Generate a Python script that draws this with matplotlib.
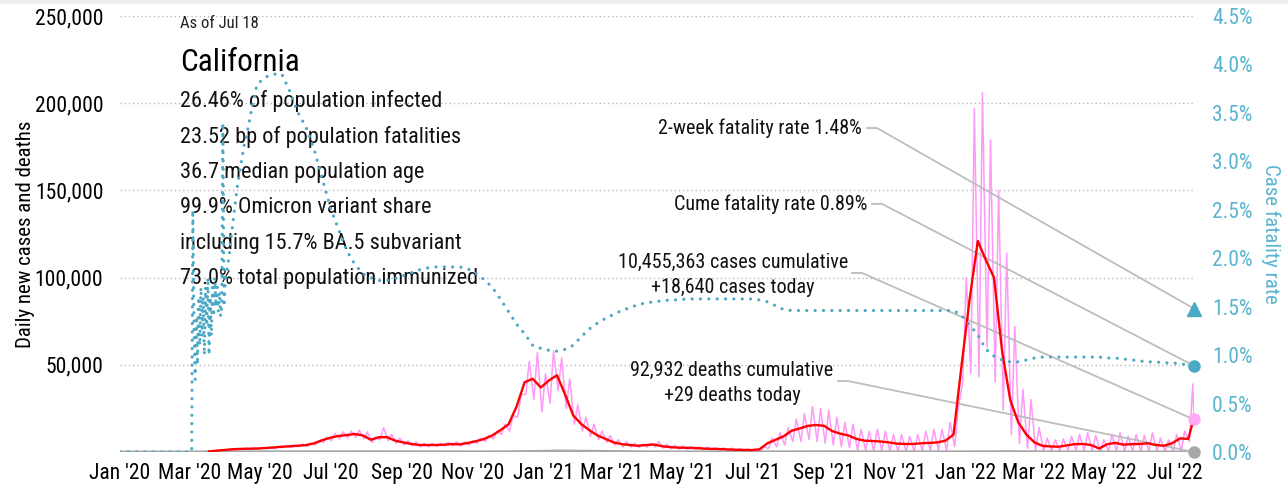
import numpy as np
import pandas as pd
import matplotlib
matplotlib.use('Agg')
import matplotlib.pyplot as plt
import matplotlib.dates as mdates
from matplotlib import font_manager
from matplotlib.patches import Rectangle
from matplotlib.ticker import FuncFormatter, MultipleLocator

# condensed font if we have one
installed = {f.name for f in font_manager.fontManager.ttflist}
fams = [n for n in ['Liberation Sans Narrow', 'Roboto Condensed'] if n in installed]
plt.rcParams['font.family'] = fams + ['DejaVu Sans']

# ── Data ──────────────────────────────────────────────────────
start = '2020-01-01'
as_of = '2022-07-18'
n_weeks = 133

# 7-day average of new cases (thousands), one value per week from Jan 1 2020
cases_avg_k = [np.nan] * 11 + [
    0.3, 0.8, 1.2, 1.6, 1.8, 1.9, 2.0, 2.3, 2.6, 3.0,
    3.3, 3.6, 4.0, 5.0, 6.8, 8.2, 9.2, 9.7, 10.3, 9.5,
    7.0, 8.5, 8.5, 6.5, 5.5, 4.6, 4.0, 4.0, 4.0, 4.2,
    4.5, 4.4, 5.2, 6.2, 7.5, 9.5, 12.5, 15.8, 26, 40,
    42, 37, 41, 44, 33, 21, 16, 12.5, 9.5, 7.5,
    5.5, 4.5, 4.0, 3.6, 4.0, 4.3, 3.3, 2.8, 2.5, 2.4,
    2.3, 2.0, 1.8, 1.7, 1.5, 1.3, 1.2, 1.1, 1.5, 5.0,
    7.0, 9.0, 12.2, 13.5, 15.0, 15.5, 15.0, 12.0, 10.5, 9.5,
    7.5, 6.5, 6.3, 6.0, 5.5, 4.8, 4.6, 4.6, 5.0, 5.2,
    5.5, 6.5, 10, 50, 88, 121, 110, 100, 58, 30,
    17, 10, 5.5, 3.5, 3.2, 3.0, 3.8, 4.5, 4.6, 4.0,
    2.0, 4.5, 5.2, 4.2, 4.5, 4.6, 5.0, 4.0, 3.6, 5.0,
    7.8, 7.5]
cases_avg_last_k = 19.5

# daily new cases (thousands): weekly high (reporting day) and low (weekend)
cases_hi_k = [0] * 9 + [0.05, 0.3,
    0.6, 1.1, 1.5, 1.9, 2.2, 2.4, 2.5, 2.8, 3.2, 3.6,
    4.0, 4.5, 5.0, 6.5, 8.5, 10.5, 11.5, 12.0, 12.5, 11.5,
    8.5, 14.0, 10.0, 8.0, 6.5, 5.8, 5.0, 5.0, 5.0, 5.5,
    5.8, 5.6, 6.5, 7.8, 9.5, 12.0, 16.0, 21.0, 33.0, 52.0,
    57.0, 45.0, 58.0, 54.0, 42.0, 27.0, 20.0, 16.0, 12.0, 9.5,
    7.0, 6.0, 5.0, 4.5, 5.0, 6.0, 4.5, 3.8, 3.4, 3.2,
    3.0, 2.8, 2.5, 2.4, 2.2, 2.0, 1.8, 1.8, 3.0, 8.0,
    11.0, 14.0, 19.0, 22.0, 26.0, 25.0, 24.0, 20.0, 17.0, 16.0,
    13.0, 12.0, 13.0, 12.0, 10.0, 10.0, 9.0, 10.0, 12.0, 13.0,
    13.0, 17.0, 25.0, 100.0, 197.0, 206.0, 179.0, 150.0, 114.0, 72.0,
    36.0, 30.0, 14.0, 8.0, 7.0, 7.5, 9.0, 10.0, 11.0, 9.5,
    7.0, 10.0, 11.0, 9.0, 10.0, 9.5, 11.0, 8.0, 7.0, 10.0,
    12.0, 39.0]
cases_lo_k = [0] * 9 + [0.02, 0.1,
    0.3, 0.6, 1.0, 1.3, 1.5, 1.5, 1.6, 1.9, 2.0, 2.4,
    2.7, 3.0, 3.2, 4.0, 5.5, 6.5, 7.5, 8.0, 8.5, 7.5,
    5.5, 7.0, 6.5, 5.0, 4.0, 3.5, 3.0, 3.0, 3.2, 3.4,
    3.6, 3.4, 4.0, 5.0, 6.0, 7.5, 10.0, 12.0, 20.0, 33.0,
    30.0, 23.0, 28.0, 35.0, 25.0, 16.0, 12.0, 9.0, 7.0, 5.5,
    4.0, 3.0, 2.8, 2.5, 2.8, 2.8, 2.2, 1.8, 1.6, 1.5,
    1.4, 1.2, 1.0, 0.9, 0.8, 0.5, 0.3, 0.2, 0.3, 2.0,
    3.0, 4.0, 6.0, 6.0, 7.0, 6.0, 5.0, 4.0, 3.0, 2.5,
    1.0, 1.0, 0.5, 0.5, 0.3, 0.3, 0.2, 0.3, 0.5, 0.5,
    0.8, 1.0, 3.0, 40.0, 45.0, 43.0, 60.0, 40.0, 24.0, 10.0,
    5.0, 2.0, 1.0, 0.5, 0.5, 0.5, 0.8, 1.0, 0.8, 0.5,
    0.2, 0.5, 0.5, 0.3, 0.5, 0.5, 0.3, 0.3, 0.2, 0.3,
    1.0, 6.0]
cases_today = 18640

# 7-day average of deaths per day, weekly
deaths_avg = [0] * 10 + [
    2, 5, 15, 35, 50, 70, 80, 75, 70, 70,
    75, 70, 65, 60, 55, 60, 70, 90, 110, 120,
    130, 130, 135, 130, 120, 100, 90, 80, 70, 60,
    55, 50, 45, 45, 45, 50, 60, 80, 110, 160,
    220, 270, 330, 450, 540, 520, 480, 430, 380, 300,
    230, 180, 130, 100, 80, 60, 50, 40, 35, 30,
    25, 20, 20, 18, 15, 15, 15, 15, 15, 15,
    20, 25, 35, 50, 70, 90, 100, 100, 95, 90,
    80, 70, 60, 55, 50, 45, 40, 40, 40, 40,
    40, 40, 40, 40, 45, 60, 90, 120, 150, 170,
    180, 170, 140, 110, 80, 60, 45, 35, 25, 20,
    20, 18, 18, 18, 20, 20, 20, 22, 25, 25,
    28, 30, 30]
deaths_today = 29

# cumulative case fatality rate (%): daily Mar 4 - Apr 29 2020, then weekly from May 6 2020
cfr_daily_start = '2020-03-04'
cfr_daily = [
    2.5, 1.3, 0.75, 1.4, 0.9, 1.6, 1.1, 1.7, 1.2, 1.6,
    1.0, 1.7, 1.3, 1.8, 1.0, 1.6, 1.2, 1.7, 1.4, 1.8,
    1.5, 1.7, 1.45, 1.65, 1.4, 1.5, 3.4, 1.5,
    1.75, 1.85, 1.9, 2.0, 2.08, 2.2, 2.3, 2.4, 2.5, 2.6,
    2.7, 2.78, 2.85, 2.92, 3.0, 3.07, 3.14, 3.2, 3.25, 3.3,
    3.36, 3.42, 3.48, 3.55, 3.6, 3.65, 3.7, 3.77, 3.8]
cfr_weekly_first = 18
cfr_weekly = [
    3.87, 3.9, 3.9, 3.72, 3.5, 3.35, 3.12, 2.82, 2.52, 2.3,
    2.08, 1.94, 1.84, 1.8, 1.77, 1.77, 1.79, 1.82, 1.85, 1.88,
    1.9, 1.91, 1.91, 1.91, 1.91, 1.89, 1.84, 1.78, 1.7, 1.58,
    1.45, 1.32, 1.22, 1.1, 1.07, 1.05, 1.04, 1.06, 1.1, 1.19,
    1.27, 1.33, 1.38, 1.42, 1.46, 1.49, 1.52, 1.54, 1.55, 1.56,
    1.57, 1.57, 1.58, 1.58, 1.58, 1.58, 1.58, 1.58, 1.58, 1.58,
    1.58, 1.57, 1.55, 1.51, 1.47, 1.46, 1.46, 1.46, 1.46, 1.46,
    1.46, 1.46, 1.46, 1.46, 1.46, 1.46, 1.46, 1.46, 1.46, 1.46,
    1.46, 1.46, 1.46, 1.46, 1.46, 1.46, 1.41, 1.31, 1.21, 1.06,
    0.99, 0.95, 0.93, 0.93, 0.95, 0.97, 0.98, 0.98, 0.98, 0.98,
    0.98, 0.98, 0.98, 0.98, 0.97, 0.97, 0.96, 0.95, 0.94, 0.93,
    0.93, 0.92, 0.92, 0.91, 0.9]
cfr_cume = 0.89
cfr_2wk = 1.48

stats_lines = [
    '26.46% of population infected',
    '23.52 bp of population fatalities',
    '36.7 median population age',
    '99.9% Omicron variant share',
    'including 15.7% BA.5 subvariant',
    '73.0% total population immunized',
]

# ── Build series ──────────────────────────────────────────────
weeks = pd.date_range(start, periods=n_weeks, freq='7D')
end = pd.Timestamp(as_of)

red_x = weeks.append(pd.DatetimeIndex([end]))
red_y = np.array(cases_avg_k + [cases_avg_last_k]) * 1000

pink = pd.concat([
    pd.Series(cases_lo_k, index=weeks + pd.Timedelta(days=1)),
    pd.Series(cases_hi_k, index=weeks + pd.Timedelta(days=4)),
    pd.Series([cases_today / 1000], index=[end]),
]).sort_index() * 1000

deaths = pd.Series(deaths_avg + [deaths_today], index=weeks.append(pd.DatetimeIndex([end])))

cfr = pd.concat([
    pd.Series([0.0, 0.0], index=pd.to_datetime([start, '2020-03-03'])),
    pd.Series(cfr_daily, index=pd.date_range(cfr_daily_start, periods=len(cfr_daily))),
    pd.Series(cfr_weekly, index=weeks[cfr_weekly_first:]),
    pd.Series([cfr_cume], index=[end]),
])

# ── Plot ──────────────────────────────────────────────────────
teal = '#4aa9c4'
teal_txt = '#5ab5cf'
pink_c = '#ff99f7'
grid_c = '#b8b8b8'
ann_c = '#bdbdbd'

fig = plt.figure(figsize=(12.88, 4.91), dpi=100)
fig.patches.append(Rectangle((0, 1 - 3 / 491), 1, 3 / 491, transform=fig.transFigure,
                             color='#eeeeee', zorder=0))
ax = fig.add_axes([120 / 1288, 39 / 491, 1074 / 1288, 436 / 491])
ax2 = ax.twinx()

ax.plot(pink.index, pink.values, color=pink_c, lw=1.1, zorder=2)
ax.plot(deaths.index, deaths.values, color='#a8a8a8', lw=2.2, zorder=3)
ax.plot(red_x, red_y, color='#ff0000', lw=1.7, zorder=5)

ax2.plot(cfr.index, cfr.values, color=teal, lw=2.3, linestyle=(0, (0.01, 2.6)),
         dash_capstyle='round', zorder=4)

# end markers
ax.plot([end], [cases_today], 'o', ms=8, color='#ffaaf5', clip_on=False, zorder=6)
ax.plot([end], [deaths_today], 'o', ms=8, color='#a8a8a8', clip_on=False, zorder=6)
ax2.plot([end], [cfr_cume], 'o', ms=8, color=teal, clip_on=False, zorder=6)
ax2.plot([end], [cfr_2wk], '^', ms=10, color=teal, clip_on=False, zorder=6)

# axes
ax.set_xlim(pd.Timestamp(start), end)
ax.set_ylim(0, 250000)
ax2.set_ylim(0, 4.5)
ax.yaxis.set_major_locator(MultipleLocator(50000))
ax2.yaxis.set_major_locator(MultipleLocator(0.5))
ax.yaxis.set_major_formatter(FuncFormatter(lambda v, p: '' if v == 0 else f'{v:,.0f}'))
ax2.yaxis.set_major_formatter(FuncFormatter(lambda v, p: f'{v:.1f}%'))
ax.xaxis.set_major_locator(mdates.MonthLocator(bymonth=[1, 3, 5, 7, 9, 11]))
ax.xaxis.set_major_formatter(mdates.DateFormatter("%b '%y"))

ax.grid(axis='y', color=grid_c, lw=1, linestyle=(0, (1, 2)))
ax.set_axisbelow(True)
for a in (ax, ax2):
    for s in a.spines.values():
        s.set_visible(False)
    a.tick_params(length=0, labelsize=15.5)
ax.tick_params(axis='y', pad=12)
ax.tick_params(axis='x', pad=8)
ax2.tick_params(axis='y', pad=13, labelcolor=teal_txt)

ax.set_ylabel('Daily new cases and deaths', fontsize=15)
ax.yaxis.set_label_coords(-0.079, 0.5)
ax2.set_ylabel('Case fatality rate', fontsize=15, color=teal_txt, rotation=270, va='bottom')
ax2.yaxis.set_label_coords(1.062, 0.5)

# info block
ax.text(0.056, 0.982, 'As of Jul 18', transform=ax.transAxes, fontsize=12,
        va='center', color='#222222', zorder=7)
ax.text(0.056, 0.894, 'California', transform=ax.transAxes, fontsize=22.5,
        va='center', zorder=7)
for i, line in enumerate(stats_lines):
    ax.text(0.056, 0.805 - i * 0.0816, line, transform=ax.transAxes, fontsize=16,
            va='center', color='#111111', zorder=7)

# callouts: text, text x / y (axes fraction), line start x, bend x, line y, target y (axes fraction)
def callout(lines, tx, ty, ha, lx0, lx1, ly, target):
    for j, t in enumerate(lines):
        ax.text(tx, ty - j * 0.058, t, transform=ax.transAxes, fontsize=14.5,
                ha=ha, va='center', color='#111111', zorder=7)
    ax.plot([lx0, lx1, 1.0], [ly, ly, target], transform=ax.transAxes, color=ann_c,
            lw=1.3, clip_on=False, zorder=4)

callout(['2-week fatality rate 1.48%'], 0.691, 0.743, 'right', 0.6955, 0.7048, 0.743,
        cfr_2wk / 4.5)
callout(['Cume fatality rate 0.89%'], 0.6955, 0.569, 'right', 0.7002, 0.7095, 0.569,
        cfr_cume / 4.5)
callout(['10,455,363 cases cumulative', '+18,640 cases today'], 0.5708, 0.4358, 'center',
        0.6816, 0.6909, 0.4106, cases_today / 250000)
callout(['92,932 deaths cumulative', '+29 deaths today'], 0.5698, 0.1881, 'center',
        0.6685, 0.6778, 0.1628, deaths_today / 250000)

fig.savefig('out.png', dpi=100)
